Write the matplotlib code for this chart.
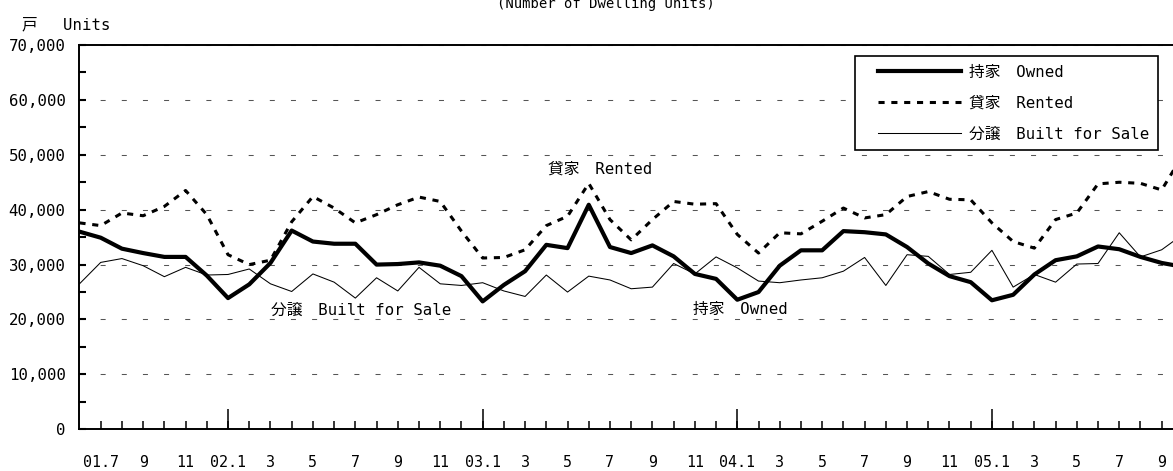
import numpy as np
import matplotlib
matplotlib.use('Agg')
import matplotlib.pyplot as plt
from matplotlib.lines import Line2D
from matplotlib.legend_handler import HandlerLine2D
from matplotlib.ticker import FixedLocator

FAM = ['DejaVu Sans Mono', 'Noto Sans CJK JP']
plt.rcParams['font.family'] = FAM

# ---- data: monthly dwelling units, 2001.6 ... 2005.10 ----
months = ['01.6', '01.7', '01.8', '01.9', '01.10', '01.11', '01.12',
          '02.1', '02.2', '02.3', '02.4', '02.5', '02.6', '02.7', '02.8', '02.9', '02.10', '02.11', '02.12',
          '03.1', '03.2', '03.3', '03.4', '03.5', '03.6', '03.7', '03.8', '03.9', '03.10', '03.11', '03.12',
          '04.1', '04.2', '04.3', '04.4', '04.5', '04.6', '04.7', '04.8', '04.9', '04.10', '04.11', '04.12',
          '05.1', '05.2', '05.3', '05.4', '05.5', '05.6', '05.7', '05.8', '05.9', '05.10']

owned = [36000, 34900, 32900, 32100, 31400, 31400, 28000,
         23900, 26400, 30300, 36200, 34200, 33800, 33800, 30000, 30100, 30400, 29800, 27900,
         23300, 26300, 28800, 33600, 33000, 40900, 33200, 32100, 33500, 31500, 28300, 27400,
         23600, 25000, 29800, 32600, 32600, 36100, 35900, 35500, 33200, 30200, 27900, 26800,
         23500, 24500, 28200, 30800, 31500, 33300, 32800, 31400, 30300, 29600]

rented = [37600, 37100, 39400, 38900, 40600, 43500, 39100,
          31800, 30000, 30800, 37800, 42400, 40300, 37600, 39100, 40900, 42300, 41500, 36100,
          31200, 31300, 32700, 37100, 38800, 44800, 38200, 34500, 38200, 41500, 41000, 41100,
          35500, 32100, 35800, 35600, 37900, 40300, 38500, 39100, 42400, 43300, 41900, 41800,
          37600, 34200, 33000, 38200, 39400, 44700, 45000, 44800, 43600, 50000]

for_sale = [26500, 30400, 31100, 29800, 27800, 29500, 28100,
            28200, 29200, 26500, 25100, 28300, 26800, 23900, 27600, 25200, 29500, 26500, 26200,
            26700, 25200, 24200, 28100, 25000, 27900, 27200, 25600, 25900, 30200, 28300, 31400,
            29400, 27000, 26700, 27200, 27600, 28800, 31300, 26200, 31800, 31500, 28200, 28600,
            32600, 25900, 28200, 26800, 30100, 30200, 35800, 31400, 32700, 35500]

series_labels = ['持家　Owned', '貸家　Rented', '分譲　Built for Sale']

x_tick_labels = ['01.7', '9', '11', '02.1', '3', '5', '7', '9', '11', '03.1', '3', '5', '7',
                 '9', '11', '04.1', '3', '5', '7', '9', '11', '05.1', '3', '5', '7', '9']

y_ticks = [0, 10000, 20000, 30000, 40000, 50000, 60000, 70000]

# ---- figure ----
fig = plt.figure(figsize=(11.73, 4.71), dpi=100)
ax = fig.add_axes([0.06777, 0.08854, 0.94067, 0.81592])

x = np.arange(len(months))
ax.set_xlim(0, len(months) - 1)
ax.set_ylim(0, 70000)

ax.plot(x, owned, color='black', lw=3.0, zorder=5, label=series_labels[0])
ax.plot(x, rented, color='black', lw=2.2, linestyle=(0, (2.0, 2.2)), zorder=4,
        label=series_labels[1])
ax.plot(x, for_sale, color='black', lw=0.75, zorder=3, label=series_labels[2])

# grid
ax.set_axisbelow(True)
ax.yaxis.grid(True, color='#555555', lw=0.75, linestyle=(0, (4.8, 15.5)))

# y axis
ax.set_yticks(y_ticks)
ax.set_yticklabels([f"{v:,}" for v in y_ticks])
ax.yaxis.set_minor_locator(FixedLocator([v + 5000 for v in y_ticks[:-1]]))
ax.tick_params(axis='y', which='both', direction='in', length=5, width=1.5, pad=10,
               labelsize=11.3, colors='black')

# x axis: every month a short tick, Januaries a long tick
month_pos = list(x[1:])
label_map = dict(zip(range(1, len(months), 2), x_tick_labels))
ax.set_xticks(month_pos)
ax.set_xticklabels([label_map.get(p, '') for p in month_pos])
jan_pos = [i for i, m in enumerate(months) if m.endswith('.1')]
ax.set_xticks(jan_pos, minor=True)
ax.xaxis.remove_overlapping_locs = False
ax.tick_params(axis='x', which='major', direction='in', length=5.8, width=1.1, pad=18.5,
               labelsize=10.8)
ax.tick_params(axis='x', which='minor', direction='in', length=14.4, width=1.1)

for s in ax.spines.values():
    s.set_linewidth(1.4)

# texts
fig.text(22 / 1173, 1 - 25 / 471, '戸　 Units', fontsize=11.3, va='center', ha='left')
fig.text(497 / 1173, 1 - 8 / 471, '(Number of Dwelling Units)', fontsize=10,
         va='baseline', ha='left')

ax.text(22.08, 47400, '貸家　Rented', fontsize=11.3, va='center', ha='left')
ax.text(9.02, 21730, '分譲　Built for Sale', fontsize=11.3, va='center', ha='left')
ax.text(28.91, 21910, '持家　Owned', fontsize=11.3, va='center', ha='left')

leg = ax.legend(loc='upper right', bbox_to_anchor=(1158 / 1173, 1 - 56 / 471),
                bbox_transform=fig.transFigure, borderaxespad=0, frameon=True,
                fancybox=False, edgecolor='black', framealpha=1, handlelength=6.2,
                handletextpad=0.5, labelspacing=1.02, borderpad=0.55,
                prop={'family': FAM, 'size': 11.3},
                handler_map={Line2D: HandlerLine2D(xpad=0.9)})
leg.get_frame().set_linewidth(1.2)

fig.savefig('out.png', dpi=100)
